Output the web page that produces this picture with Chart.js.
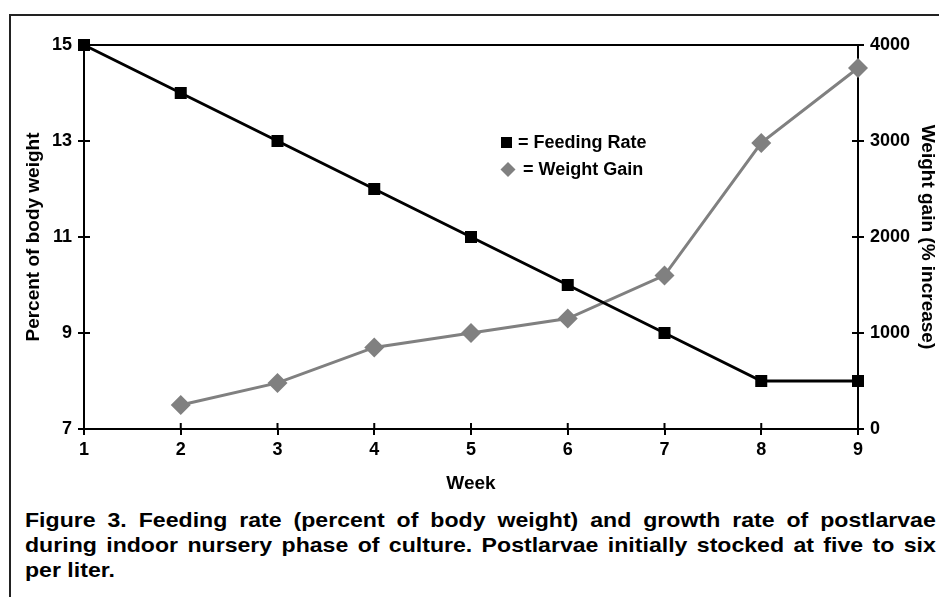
<!DOCTYPE html>
<html>
<head>
<meta charset="utf-8">
<script src="https://cdn.jsdelivr.net/npm/chart.js@4"></script>
<style>
  html, body { margin: 0; padding: 0; background: #fff; }
  body { width: 939px; height: 597px; position: relative; overflow: hidden; }
  #wrap { position: absolute; left: 0; top: 0; width: 939px; height: 500px; }
  .frame-top { position: absolute; left: 9px; top: 14px; width: 930px; height: 2px; background: #222; }
  .frame-left { position: absolute; left: 9px; top: 14px; width: 2px; height: 583px; background: #222; }
  #caption {
    position: absolute; left: 25px; top: 507px; width: 828px;
    transform: scaleX(1.1); transform-origin: left top;
    font: bold 21px "Liberation Sans", Arial, Helvetica, sans-serif;
    line-height: 25px; color: #000;
  }
  #caption div { white-space: nowrap; text-align: justify; }
  #caption div.j { text-align-last: justify; }
</style>
</head>
<body>
<div class="frame-top"></div>
<div class="frame-left"></div>
<div id="wrap"><canvas id="chart" width="939" height="500"></canvas></div>
<div id="caption">
  <div class="j">Figure 3. Feeding rate (percent of body weight) and growth rate of postlarvae</div>
  <div class="j">during indoor nursery phase of culture. Postlarvae initially stocked at five to six</div>
  <div>per liter.</div>
</div>
<script>
// values
const weeks = [1, 2, 3, 4, 5, 6, 7, 8, 9]
const feedingRate = [15, 14, 13, 12, 11, 10, 9, 8, 8]
const weightGain = [null, 250, 480, 850, 1000, 1150, 1600, 2980, 3760]
const leftTicks = [7, 9, 11, 13, 15]
const rightTicks = [0, 1000, 2000, 3000, 4000]

const FONT = '"Liberation Sans", Arial, Helvetica, sans-serif'
const GREY = '#808080'

// ticks in the original cross the axis line, so draw the inner half too
const crossTicks = {
  id: 'crossTicks',
  afterDraw(chart) {
    const ctx = chart.ctx
    const a = chart.chartArea
    const {x, y, y2} = chart.scales
    ctx.save()
    ctx.strokeStyle = '#000'
    ctx.lineWidth = 2
    ctx.beginPath()
    // top edge of the plot box
    ctx.moveTo(a.left - 1, a.top)
    ctx.lineTo(a.right + 1, a.top)
    x.ticks.forEach(t => {
      const px = x.getPixelForValue(t.value)
      ctx.moveTo(px, a.bottom)
      ctx.lineTo(px, a.bottom - 6)
    })
    y.ticks.forEach(t => {
      const py = y.getPixelForValue(t.value)
      if (py > a.top + 1) { ctx.moveTo(a.left, py); ctx.lineTo(a.left + 6, py) }
    })
    y2.ticks.forEach(t => {
      const py = y2.getPixelForValue(t.value)
      if (py > a.top + 1 && py < a.bottom - 1) { ctx.moveTo(a.right, py); ctx.lineTo(a.right - 6, py) }
    })
    ctx.stroke()
    ctx.restore()
  }
}

// legend in the middle of the plot, as in the figure
const innerLegend = {
  id: 'innerLegend',
  afterDraw(chart) {
    const ctx = chart.ctx
    ctx.save()
    ctx.fillStyle = '#000'
    ctx.fillRect(501, 137, 11, 11)
    ctx.fillStyle = GREY
    ctx.beginPath()
    ctx.moveTo(508, 162); ctx.lineTo(515.5, 169.5); ctx.lineTo(508, 177); ctx.lineTo(500.5, 169.5)
    ctx.closePath()
    ctx.fill()
    ctx.fillStyle = '#000'
    ctx.font = 'bold 18px ' + FONT
    ctx.textBaseline = 'middle'
    ctx.fillText('= Feeding Rate', 518, 143)
    ctx.fillText('= Weight Gain', 523, 170)
    ctx.restore()
  }
}

const pts = (vals) => weeks.map((w, i) => ({x: w, y: vals[i]}))
const plain = v => String(v)

const tickFont = {family: FONT, size: 18, weight: 'bold'}
const titleFont = {family: FONT, size: 19, weight: 'bold'}
const gridOpts = {drawOnChartArea: false, drawTicks: true, tickLength: 6, color: '#000', lineWidth: 2}
const borderOpts = {display: true, color: '#000', width: 2}

new Chart(document.getElementById('chart'), {
  type: 'line',
  data: {
    datasets: [
      {
        label: 'Feeding Rate',
        data: pts(feedingRate),
        yAxisID: 'y',
        borderColor: '#000',
        backgroundColor: '#000',
        borderWidth: 3,
        pointStyle: 'rect',
        pointRadius: 8.5,
        pointBorderWidth: 0,
        tension: 0,
        clip: false,
        order: 1
      },
      {
        label: 'Weight Gain',
        data: pts(weightGain),
        yAxisID: 'y2',
        borderColor: GREY,
        backgroundColor: GREY,
        borderWidth: 3,
        pointStyle: 'rectRot',
        pointRadius: 10,
        pointBorderWidth: 0,
        tension: 0,
        clip: false,
        order: 2
      }
    ]
  },
  options: {
    responsive: false,
    animation: false,
    events: [],
    layout: {padding: {left: 20, top: 45, right: 0, bottom: 5}},
    plugins: {legend: {display: false}, tooltip: {enabled: false}},
    scales: {
      x: {
        type: 'linear',
        min: 1, max: 9,
        afterFit: s => { s.height = 66 },
        ticks: {stepSize: 1, color: '#000', font: tickFont, padding: 4, callback: plain},
        grid: gridOpts,
        border: borderOpts,
        title: {display: true, text: 'Week', color: '#000', font: titleFont, padding: 0}
      },
      y: {
        position: 'left',
        min: 7, max: 15,
        afterFit: s => { s.width = 64 },
        afterBuildTicks: s => { s.ticks = leftTicks.map(v => ({value: v})) },
        ticks: {color: '#000', font: tickFont, padding: 6, callback: plain},
        grid: gridOpts,
        border: borderOpts,
        title: {display: true, text: 'Percent of body weight', color: '#000', font: titleFont, padding: {top: 2, bottom: 0}}
      },
      y2: {
        position: 'right',
        min: 0, max: 4000,
        afterFit: s => { s.width = 81 },
        afterBuildTicks: s => { s.ticks = rightTicks.map(v => ({value: v})) },
        ticks: {color: '#000', font: tickFont, padding: 6, callback: plain},
        grid: gridOpts,
        border: borderOpts,
        title: {display: true, text: 'Weight gain (% increase)', color: '#000', font: titleFont, padding: 0}
      }
    }
  },
  plugins: [crossTicks, innerLegend]
})
</script>
</body>
</html>
